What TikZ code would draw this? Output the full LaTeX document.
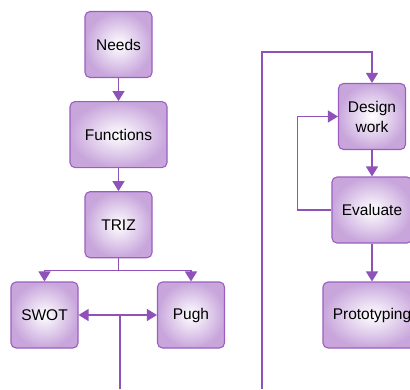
\documentclass[tikz,border=0pt]{standalone}
\usepackage{fontspec}
\setmainfont{Liberation Sans}
\usepackage{tikz}
\usetikzlibrary{arrows.meta,positioning,calc}
\definecolor{boxline}{HTML}{9B5EC0}
\definecolor{boxfill}{HTML}{C8A6DC}
\definecolor{wire}{HTML}{8E52B8}

\begin{document}
\begin{tikzpicture}[x=1pt,y=-1pt,
    b/.style={draw=boxline,line width=1.1pt,rounded corners=5pt,shading=radial,
      inner color=white,outer color=boxfill,minimum height=66pt,minimum width=67pt,
      align=center,font=\fontsize{15.5}{20}\selectfont},
    a/.style={draw=wire,line width=1.2pt,-{Triangle[width=12pt,length=10pt]}},
    l/.style={draw=wire,line width=1.2pt}]
    \clip (0,0) rectangle (410,389);
    \node[b] (needs) at (118.5,44.5) {Needs};
    \node[b,below=23pt of needs,minimum width=97pt] (func) {Functions};
    \node[b,below=23pt of func] (triz) {TRIZ};
    \node[b] (swot) at (44.5,315) {SWOT};
    \node[b] (pugh) at (191,315) {Pugh};
    \node[b] (design) at (372,116.5) {Design\\work};
    \node[b,minimum width=80pt] (eval) at (372,210) {Evaluate};
    \node[b,minimum width=98pt] (proto) at (372,315) {Prototyping};
    \coordinate (split) at ($(triz.south)+(0,12)$);
    \coordinate (hub) at (120,315);
    \coordinate (low) at (120,389);
    \coordinate (rise) at (262,389);
    \coordinate (top) at (design.north |- 0,52);
    \draw[a] (needs) -- (func);
    \draw[a] (func) -- (triz);
    \draw[l] (triz.south) -- (split);
    \draw[a] (split) -| (swot.north);
    \draw[a] (split) -| (pugh.north);
    \draw[l] (low) -- (hub);
    \draw[a] (hub) -- (swot.east);
    \draw[a] (hub) -- (pugh.west);
    \draw[a] (rise) |- (top) -- (design.north);
    \draw[a] (design) -- (eval);
    \draw[a] (eval.west) -- ++(-34,0) |- (design.west);
    \draw[a] (eval) -- (proto);
\end{tikzpicture}
\end{document}
